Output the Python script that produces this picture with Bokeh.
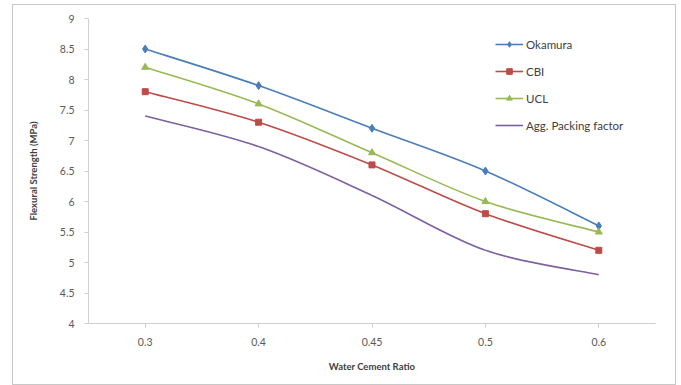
from bokeh.plotting import figure
from bokeh.models import Range1d, FixedTicker, Legend, LegendItem
from bokeh.embed import file_html
from bokeh.resources import INLINE

categories = ["0.3", "0.4", "0.45", "0.5", "0.6"]
okamura = [8.5, 7.9, 7.2, 6.5, 5.6]
cbi = [7.8, 7.3, 6.6, 5.8, 5.2]
ucl = [8.2, 7.6, 6.8, 6.0, 5.5]
agg = [7.4, 6.9, 6.1, 5.2, 4.8]
series_names = ["Okamura", "CBI", "UCL", "Agg. Packing factor"]
y_ticks = [4, 4.5, 5, 5.5, 6, 6.5, 7, 7.5, 8, 8.5, 9]

FONT = "Lato"

p = figure(width=664, height=381, output_backend="svg", toolbar_location=None,
           x_range=Range1d(-0.5, len(categories) - 0.5), y_range=Range1d(4, 9),
           min_border_left=75, min_border_right=22, min_border_top=13, min_border_bottom=63)
p.margin = (4, 0, 0, 12)
p.styles = {"border": "1px solid #c8c8c8"}
p.outline_line_color = None
p.xgrid.grid_line_color = None
p.ygrid.grid_line_color = None
p.background_fill_color = "white"

xs = list(range(len(categories)))
p.xaxis.ticker = FixedTicker(ticks=xs)
p.xaxis.major_label_overrides = {i: c for i, c in enumerate(categories)}
p.yaxis.ticker = FixedTicker(ticks=y_ticks)
p.yaxis.major_label_overrides = {t: ("%g" % t) for t in y_ticks}

for ax in (p.xaxis[0], p.yaxis[0]):
    ax.axis_line_color = "#d0d0d0"
    ax.major_tick_line_color = "#d0d0d0"
    ax.minor_tick_line_color = None
    ax.major_tick_out = 4
    ax.major_tick_in = 0
    ax.major_label_text_font = FONT
    ax.major_label_text_font_size = "10.5px"
    ax.major_label_text_color = "#595959"
    ax.axis_label_text_font = FONT
    ax.axis_label_text_font_size = "9.5px"
    ax.axis_label_text_font_style = "bold"
    ax.axis_label_text_color = "#404040"
p.xaxis.axis_label = "Water Cement Ratio"
p.yaxis.axis_label = "Flexural Strength (MPa)"
p.xaxis.major_label_standoff = 10
p.xaxis.axis_label_standoff = 12
p.yaxis.major_label_standoff = 10
p.yaxis.axis_label_standoff = 18


def smooth_segments(x, y):
    n = len(x)
    x0, y0, x1, y1, cx0, cy0, cx1, cy1 = [], [], [], [], [], [], [], []
    for i in range(n - 1):
        xm = x[i - 1] if i > 0 else x[i]
        ym = y[i - 1] if i > 0 else y[i]
        xp = x[i + 2] if i + 2 < n else x[i + 1]
        yp = y[i + 2] if i + 2 < n else y[i + 1]
        x0.append(x[i]); y0.append(y[i]); x1.append(x[i + 1]); y1.append(y[i + 1])
        cx0.append(x[i] + (x[i + 1] - xm) / 6.0)
        cy0.append(y[i] + (y[i + 1] - ym) / 6.0)
        cx1.append(x[i + 1] - (xp - x[i]) / 6.0)
        cy1.append(y[i + 1] - (yp - y[i]) / 6.0)
    return dict(x0=x0, y0=y0, x1=x1, y1=y1, cx0=cx0, cy0=cy0, cx1=cx1, cy1=cy1)


styles = [
    (okamura, "#4a7ebb", "diamond", 8),
    (cbi, "#be4b48", "square", 6),
    (ucl, "#98b954", "triangle", 7),
    (agg, "#7d60a0", None, 0),
]

items = []
for name, (vals, color, marker, size) in zip(series_names, styles):
    seg = smooth_segments(xs, vals)
    r = p.bezier(line_color=color, line_width=1.6, **seg)
    rends = [r]
    if marker:
        m = p.scatter(xs, vals, marker=marker, size=size, fill_color=color, line_color=color)
        rends.append(m)
    items.append(LegendItem(label=name, renderers=rends))

legend = Legend(items=items, location=(407, 191))
legend.border_line_color = None
legend.background_fill_alpha = 0
legend.label_text_font = FONT
legend.label_text_font_size = "11.5px"
legend.label_text_color = "#404040"
legend.glyph_width = 28
legend.glyph_height = 14
legend.label_height = 14
legend.spacing = 13
legend.padding = 0
legend.margin = 0
legend.label_standoff = 3
p.add_layout(legend)

open("out.html", "w").write(file_html(p, INLINE))
